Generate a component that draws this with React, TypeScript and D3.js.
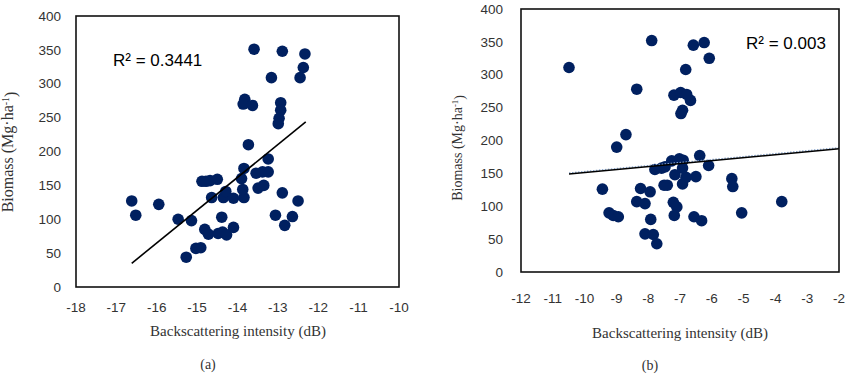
import React from "react";
import * as d3 from "d3";

// Panel (a): backscattering intensity (dB) vs biomass (Mg/ha)
const backscatterA = [
  -16.62, -16.52, -15.95, -15.47, -15.14, -15.27, -15.03, -14.91, -14.88, -14.78,
  -14.68, -14.5, -14.64, -14.81, -14.72, -14.48, -14.37, -14.27, -14.1, -14.39,
  -14.35, -14.29, -14.1, -13.84, -13.87, -13.9, -13.84, -13.73, -13.54, -13.38,
  -13.24, -13.49, -13.35, -13.24, -13.06, -12.89, -12.83, -12.64, -12.5, -13.59,
  -12.89, -12.33, -12.37, -12.45, -13.16, -13.82, -13.86, -13.63, -12.93, -12.93,
  -12.97, -12.99,
];
const biomassA = [
  127, 106, 122, 100, 98, 44, 57, 58, 156, 156,
  157, 159, 132, 85, 78, 79, 81, 77, 88, 103,
  132, 141, 131, 132, 144, 160, 175, 210, 168, 170,
  170, 146, 150, 189, 106, 139, 91, 104, 127, 351,
  348, 344, 324, 309, 309, 277, 270, 268, 272, 261,
  249, 241,
];

// Panel (b)
const backscatterB = [
  -10.49, -7.89, -6.58, -6.24, -6.08, -6.82, -8.36, -7.19, -6.98, -6.79,
  -6.67, -6.97, -6.92, -8.7, -8.99, -9.44, -9.23, -9.1, -8.94, -8.24,
  -7.94, -8.36, -8.1, -7.92, -8.1, -7.84, -7.73, -7.79, -7.58, -7.47,
  -7.26, -7.02, -7.5, -7.4, -7.16, -6.92, -6.81, -6.5, -6.38, -6.1,
  -7.21, -7.1, -7.18, -6.56, -6.32, -6.92, -5.37, -5.34, -5.06, -3.8,
  -6.9,
];
const biomassB = [
  311, 352, 345, 349, 325, 308, 278, 269, 273, 270,
  261, 241, 246, 209, 190, 126, 90, 86, 84, 127,
  122, 107, 104, 80, 58, 57, 43, 156, 158, 160,
  169, 172, 132, 132, 148, 134, 144, 145, 177, 162,
  106, 99, 86, 84, 78, 158, 142, 130, 90, 107,
  170,
];

// Linear trend lines: [x start, x end], slope, intercept
const trendRangeA = [-16.62, -12.31];
const trendSlopeA = 48.4;
const trendInterceptA = 839.4;
const trendRangeB = [-10.49, -2];
const trendSlopeB = 4.53;
const trendInterceptB = 196.5;

const r2LabelA = "R² = 0.3441";
const r2LabelB = "R² = 0.003";

const xTicksA = [-18, -17, -16, -15, -14, -13, -12, -11, -10];
const xTicksB = [-12, -11, -10, -9, -8, -7, -6, -5, -4, -3, -2];
const yTicks = [0, 50, 100, 150, 200, 250, 300, 350, 400];

const DOT = "#002060";
const TICK_FONT = "'Liberation Sans', Arial, sans-serif";
const SERIF = "'Liberation Serif', 'Times New Roman', serif";

type PanelProps = {
  xs: number[];
  ys: number[];
  xDomain: [number, number];
  xTicks: number[];
  box: { x0: number; x1: number; y0: number; y1: number };
  yTickGap: number;
  xTickOffset: number;
  trendRange: number[];
  slope: number;
  intercept: number;
  dottedTrend: boolean;
  r2: string;
  r2Pos: { x: number; y: number };
  yLabel: { x: number; y: number; size: number };
  xLabel: { x: number; y: number };
  caption: string;
  captionPos: { x: number; y: number };
};

function Panel(p: PanelProps) {
  const x = d3.scaleLinear().domain(p.xDomain).range([p.box.x0, p.box.x1]);
  const y = d3.scaleLinear().domain([0, 400]).range([p.box.y1, p.box.y0]);
  const line = d3
    .line<number>()
    .x((v) => x(v))
    .y((v) => y(p.slope * v + p.intercept));
  const trendPath = line(p.trendRange) || "";
  return (
    <g>
      {/* points */}
      {p.xs.map((v, i) => (
        <circle key={i} cx={x(v)} cy={y(p.ys[i])} r={5.8} fill={DOT} />
      ))}
      {/* trend line */}
      {p.dottedTrend && (
        <path
          d={trendPath}
          transform="translate(0,-1)"
          fill="none"
          stroke="#8aa6cc"
          strokeWidth={1.5}
          strokeDasharray="1.5 1.5"
        />
      )}
      <path d={trendPath} fill="none" stroke="#000" strokeWidth={1.6} />
      {/* plot frame */}
      <rect
        x={p.box.x0}
        y={p.box.y0}
        width={p.box.x1 - p.box.x0}
        height={p.box.y1 - p.box.y0}
        fill="none"
        stroke="#111"
        strokeWidth={1.6}
      />
      {/* y ticks */}
      {yTicks.map((t) => (
        <text
          key={"y" + t}
          x={p.box.x0 - p.yTickGap}
          y={y(t)}
          dy="0.35em"
          textAnchor="end"
          fontFamily={TICK_FONT}
          fontSize={13.5}
          fill="#333"
        >
          {t}
        </text>
      ))}
      {/* x ticks */}
      {p.xTicks.map((t) => (
        <text
          key={"x" + t}
          x={x(t)}
          y={p.box.y1 + p.xTickOffset}
          textAnchor="middle"
          fontFamily={TICK_FONT}
          fontSize={13.5}
          fill="#333"
        >
          {t}
        </text>
      ))}
      <text
        x={p.r2Pos.x}
        y={p.r2Pos.y}
        fontFamily={TICK_FONT}
        fontSize={17}
        fill="#000"
      >
        {p.r2}
      </text>
      <text
        transform={`translate(${p.yLabel.x},${p.yLabel.y}) rotate(-90)`}
        textAnchor="middle"
        fontFamily={SERIF}
        fontSize={p.yLabel.size}
        fill="#333"
      >
        Biomass (Mg·ha
        <tspan dy="-0.45em" fontSize={p.yLabel.size * 0.62}>
          -1
        </tspan>
        <tspan dy="0.45em">)</tspan>
      </text>
      <text
        x={p.xLabel.x}
        y={p.xLabel.y}
        textAnchor="middle"
        fontFamily={SERIF}
        fontSize={15}
        fill="#333"
      >
        Backscattering intensity (dB)
      </text>
      <text
        x={p.captionPos.x}
        y={p.captionPos.y}
        textAnchor="middle"
        fontFamily={SERIF}
        fontSize={14}
        fill="#333"
      >
        {p.caption}
      </text>
    </g>
  );
}

export default function App() {
  return (
    <svg
      width={847}
      height={380}
      style={{ position: "absolute", left: 0, top: 0, background: "#fff" }}
    >
      <rect width={847} height={380} fill="#fff" />
      <Panel
        xs={backscatterA}
        ys={biomassA}
        xDomain={[-18, -10]}
        xTicks={xTicksA}
        box={{ x0: 76, x1: 399, y0: 16, y1: 287 }}
        yTickGap={15}
        xTickOffset={25}
        trendRange={trendRangeA}
        slope={trendSlopeA}
        intercept={trendInterceptA}
        dottedTrend={false}
        r2={r2LabelA}
        r2Pos={{ x: 113, y: 66 }}
        yLabel={{ x: 13, y: 152, size: 16 }}
        xLabel={{ x: 238, y: 336 }}
        caption="(a)"
        captionPos={{ x: 208, y: 369 }}
      />
      <Panel
        xs={backscatterB}
        ys={biomassB}
        xDomain={[-12, -2]}
        xTicks={xTicksB}
        box={{ x0: 521, x1: 839, y0: 9, y1: 272 }}
        yTickGap={18}
        xTickOffset={31}
        trendRange={trendRangeB}
        slope={trendSlopeB}
        intercept={trendInterceptB}
        dottedTrend={true}
        r2={r2LabelB}
        r2Pos={{ x: 746, y: 49 }}
        yLabel={{ x: 462, y: 148, size: 14 }}
        xLabel={{ x: 680, y: 338 }}
        caption="(b)"
        captionPos={{ x: 650, y: 370 }}
      />
    </svg>
  );
}
